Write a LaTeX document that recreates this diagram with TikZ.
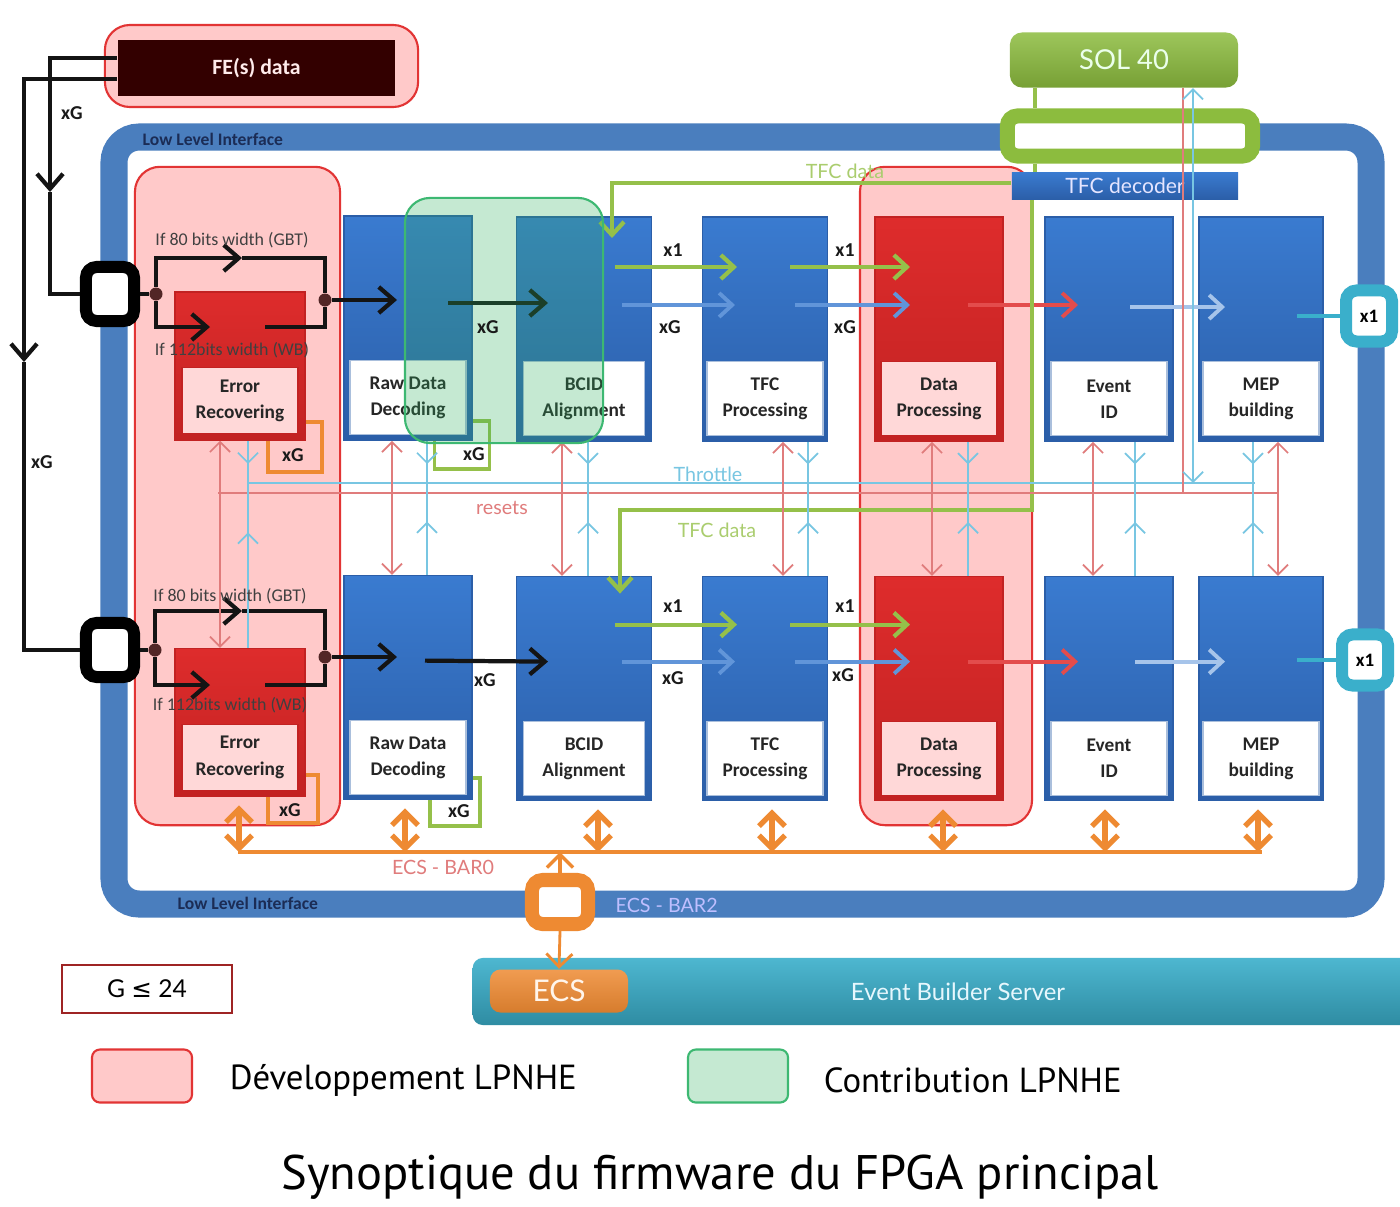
\documentclass[tikz,border=0pt]{standalone}
\usepackage{fontspec}
\setmainfont{Carlito}
\newfontfamily\thinfont{Lato}
\newfontfamily\legendfont{PT Sans}
\newfontfamily\dejavu{DejaVu Sans}
\usetikzlibrary{arrows.meta,positioning,decorations.markings}

\definecolor{llblue}{HTML}{4A7EBE}
\definecolor{blkblue}{HTML}{3A7BD0}
\definecolor{blkblue2}{HTML}{2B5EA8}
\definecolor{blkred}{HTML}{DE2C2C}
\definecolor{blkred2}{HTML}{C22222}
\definecolor{devpink}{HTML}{FFB8B8}
\definecolor{devline}{HTML}{E23434}
\definecolor{contgreen}{HTML}{30B060}
\definecolor{contline}{HTML}{3DB872}
\definecolor{solgreen}{HTML}{8CBC3E}
\definecolor{tfcgreen}{HTML}{95C04A}
\definecolor{portteal}{HTML}{3AAFCB}
\definecolor{ecsorange}{HTML}{EE8A32}
\definecolor{rstred}{HTML}{E07C7C}
\definecolor{thrblue}{HTML}{78C6E2}
\definecolor{fedark}{HTML}{330000}
\definecolor{navy}{HTML}{1B2C55}

\begin{document}
\begin{tikzpicture}[x=0.01cm, y=-0.01cm, >={Straight Barb[length=1mm,width=2mm]}, every node/.style={inner sep=0pt}]

    % Styles for nodes
    \tikzstyle{block} = [minimum width=1.28cm, minimum height=2.24cm, top color=blkblue, bottom color=blkblue2, draw=blkblue2]
    \tikzstyle{redblock} = [block, top color=blkred, bottom color=blkred2, draw=blkred2]
    \tikzstyle{erblock} = [redblock, minimum width=1.30cm, minimum height=1.48cm]
    \tikzstyle{blocktext} = [fill=white, draw=blkblue2!40, minimum width=1.16cm, minimum height=0.74cm, align=center, text=black!85, font=\fontsize{5.5}{7.4}\selectfont\bfseries]
    \tikzstyle{ertext} = [blocktext, fill=devpink!55!white, draw=blkred2, minimum height=0.66cm]
    \tikzstyle{devzone} = [fill=devpink, fill opacity=0.75, draw=devline, line width=0.6pt, rounded corners=0.25cm]
    \tikzstyle{contzone} = [fill=contgreen, fill opacity=0.28, draw=contline, line width=0.6pt, rounded corners=0.25cm]
    \tikzstyle{port} = [draw=black, line width=0.12cm, fill=white, rounded corners=3pt, minimum width=0.48cm, minimum height=0.54cm]
    \tikzstyle{outport} = [draw=portteal, line width=0.12cm, fill=white, rounded corners=3pt, minimum width=0.46cm, minimum height=0.51cm, font=\fontsize{5.4}{6}\selectfont\bfseries]
    \tikzstyle{joint} = [circle, fill=fedark!85, minimum size=0.13cm]
    \tikzstyle{xgbox} = [draw=ecsorange, line width=1pt, minimum width=0.5cm, minimum height=0.48cm]
    \tikzstyle{linktext} = [font=\fontsize{5.6}{6}\selectfont\bfseries, text=black!90]
    \tikzstyle{widthtext} = [font=\fontsize{5.1}{6}\selectfont, text=black!75]
    \tikzstyle{bustext} = [font=\thinfont\fontsize{5.6}{6}\selectfont]
    \tikzstyle{data} = [draw=black!92, line width=1.2pt, >={Straight Barb[length=1.5mm,width=2.6mm]}]
    \tikzstyle{tfc} = [draw=tfcgreen, line width=1.2pt, >={Straight Barb[length=1.3mm,width=2.4mm]}]
    \tikzstyle{xgl} = [draw=blkblue!80!white, line width=1.1pt, >={Straight Barb[length=1.3mm,width=2.4mm]}]
    \tikzstyle{dpl} = [xgl, draw=blkred!85!white]
    \tikzstyle{evl} = [xgl, draw=blkblue!45!white]
    \tikzstyle{outl} = [draw=portteal, line width=1.1pt]
    \tikzstyle{rst} = [draw=rstred, line width=0.5pt]
    \tikzstyle{thr} = [draw=thrblue, line width=0.5pt]
    \tikzstyle{ecs} = [draw=ecsorange, line width=1.5pt, >={Straight Barb[length=1.3mm,width=2.6mm]}]
    \tikzset{mid arrow/.style={postaction={decorate}, decoration={markings, mark=at position #1 with {\arrow{>}}}}}

    \useasboundingbox (0,0) rectangle (1400,1206);
    \fill[white] (0,0) rectangle (1400,1206);

    % Low Level Interface frame
    \draw[draw=llblue, line width=0.27cm, rounded corners=0.25cm] (114,137) rectangle (1371,904);
    \node[anchor=west, font=\fontsize{5}{5}\selectfont\bfseries, text=navy] (lli1) at (142,139) {Low Level Interface};
    \node[anchor=west, font=\fontsize{5}{5}\selectfont\bfseries, text=navy] (lli2) at (177,903) {Low Level Interface};

    % FE data
    \node[devzone, minimum width=3.13cm, minimum height=0.82cm] (fezone) at (261.5,66) {};
    \node[fill=fedark, minimum width=2.77cm, minimum height=0.56cm, text=white!92!red, font=\fontsize{6.2}{7}\selectfont\bfseries] (fe) at (256.5,68) {FE(s) data};

    % Zones
    \node[devzone, minimum width=2.05cm, minimum height=6.58cm] (devL) at (237.5,496) {};
    \node[devzone, minimum width=1.72cm, minimum height=6.58cm] (devR) at (946,496) {};

    % xG boxes behind blocks
    \node[xgbox, minimum width=0.54cm, minimum height=0.50cm] (erx1) at (295,447) {};
    \node[xgbox] (erx2) at (293,799) {};
    \node[xgbox, draw=tfcgreen, minimum width=0.55cm] (rdx1) at (462,445) {};
    \node[xgbox, draw=tfcgreen] (rdx2) at (455,802) {};

    % Blocks, upper row
    \node[erblock] (er1) at (240,366) {};
    \node[block] (rd1) at (408,328) {};
    \node[block, minimum width=1.35cm] (bc1) at (584,329) {};
    \node[block, minimum width=1.25cm] (tf1) at (765,329) {};
    \node[redblock] (dp1) at (939,329) {};
    \node[block] (ev1) at (1109,329) {};
    \node[block, minimum width=1.24cm] (mb1) at (1261,329) {};

    % Blocks, lower row
    \node[erblock, below=2.07cm of er1] (er2) {};
    \node[block, below=1.34cm of rd1] (rd2) {};
    \node[block, minimum width=1.35cm, below=1.34cm of bc1] (bc2) {};
    \node[block, minimum width=1.25cm, below=1.34cm of tf1] (tf2) {};
    \node[redblock, below=1.34cm of dp1] (dp2) {};
    \node[block, below=1.34cm of ev1] (ev2) {};
    \node[block, minimum width=1.24cm, below=1.34cm of mb1] (mb2) {};

    % Block names
    \node[ertext] (er1t) at ([shift={(0,-40)}]er1.south) {Error\\Recovering};
    \node[blocktext] (rd1t) at ([shift={(0,-43)}]rd1.south) {Raw Data\\Decoding};
    \node[blocktext, minimum width=1.21cm] (bc1t) at ([shift={(0,-43)}]bc1.south) {BCID\\Alignment};
    \node[blocktext] (tf1t) at ([shift={(0,-43)}]tf1.south) {TFC\\Processing};
    \node[ertext, minimum height=0.74cm] (dp1t) at ([shift={(0,-43)}]dp1.south) {Data\\Processing};
    \node[blocktext] (ev1t) at ([shift={(0,-43)}]ev1.south) {Event\\ID};
    \node[blocktext] (mb1t) at ([shift={(0,-43)}]mb1.south) {MEP\\building};
    \node[ertext] (er2t) at ([shift={(0,-40)}]er2.south) {Error\\Recovering};
    \node[blocktext] (rd2t) at ([shift={(0,-43)}]rd2.south) {Raw Data\\Decoding};
    \node[blocktext, minimum width=1.21cm] (bc2t) at ([shift={(0,-43)}]bc2.south) {BCID\\Alignment};
    \node[blocktext] (tf2t) at ([shift={(0,-43)}]tf2.south) {TFC\\Processing};
    \node[ertext, minimum height=0.74cm] (dp2t) at ([shift={(0,-43)}]dp2.south) {Data\\Processing};
    \node[blocktext] (ev2t) at ([shift={(0,-43)}]ev2.south) {Event\\ID};
    \node[blocktext] (mb2t) at ([shift={(0,-43)}]mb2.south) {MEP\\building};

    % SOL 40 and TFC decoder
    \node[top color=solgreen!85!white, bottom color=solgreen!85!black, rounded corners=0.12cm, minimum width=2.28cm, minimum height=0.55cm, text=white!92!green, font=\thinfont\fontsize{7.8}{9}\selectfont] (sol) at (1124,60) {SOL 40};
    \node[draw=solgreen, line width=0.15cm, fill=white, rounded corners=0.1cm, minimum width=2.45cm, minimum height=0.40cm] (tfcport) at (1130,136) {};
    \node[top color=blkblue, bottom color=blkblue2, minimum width=2.26cm, minimum height=0.27cm, text=white!90!blue, font=\thinfont\fontsize{6}{7}\selectfont] (tfcdec) at (1125,186) {TFC decoder};

    % Ports
    \node[port] (port1) at (110,294) {};
    \node[port] (port2) at (110,650) {};
    \node[outport] (out1) at (1369,316) {x1};
    \node[outport] (out2) at (1365,660) {x1};

    % Coordinates
    \coordinate (feL) at (24,362);
    \coordinate (feR) at (50,192);
    \coordinate (gbt1) at (242,258);
    \coordinate (wb1) at (210,327);
    \coordinate (wb2) at (265,327);
    \coordinate (gbt2) at (242,611);
    \coordinate (wb3) at (210,685);
    \coordinate (wb4) at (265,685);
    \coordinate (rstL) at (218,493);
    \coordinate (rstR) at (1278,493);
    \coordinate (thrL) at (248,483);
    \coordinate (thrR) at (1255,483);
    \coordinate (solgrn) at (1035,0);
    \coordinate (solrst) at (1183,0);
    \coordinate (solthr) at (1193,0);
    \coordinate (tfcbend) at (1032,510);
    \coordinate (ecsL) at (238,852);
    \coordinate (ecsR) at (1262,852);
    \node[joint] (d1) at (156,294) {};
    \node[joint] (d2) at (325,300) {};
    \node[joint] (d3) at (155,650) {};
    \node[joint] (d4) at (325,657) {};

    % FE data links
    \draw[data,->] ([shift={(0,11)}]fe.west) -| (feL);
    \draw[data] (feL) |- (port2.west);
    \draw[data,->] ([shift={(0,-10)}]fe.west) -| (feR);
    \draw[data] (feR) |- (port1.west);

    % Upper input path
    \draw[data] (port1.east) -- (d1);
    \draw[data,->] (d1) |- (gbt1);
    \draw[data] (gbt1) -| (d2);
    \draw[data,->] (d1) |- (wb1);
    \draw[data] (wb2) -| (d2);
    \draw[data,->] (d2) -- ++(72,0);
    \draw[data,->] ([shift={(40,-25)}]rd1.center) -- ([shift={(-36,-26)}]bc1.center);

    % Lower input path
    \draw[data] (port2.east) -- (d3);
    \draw[data,->] (d3) |- (gbt2);
    \draw[data] (gbt2) -| (d4);
    \draw[data,->] (d3) |- (wb3);
    \draw[data] (wb4) -| (d4);
    \draw[data,->] (d4) -- ++(72,0);
    \draw[data,->] ([shift={(17,-27)}]rd2.center) -- ([shift={(-36,-27)}]bc2.center);

    % Links between blocks, upper row
    \draw[tfc,->] ([shift={(31,-62)}]bc1.center) -- ([shift={(-28,-62)}]tf1.center);
    \draw[tfc,->] ([shift={(25,-62)}]tf1.center) -- ([shift={(-29,-62)}]dp1.center);
    \draw[xgl,->] ([shift={(38,-24)}]bc1.center) -- ([shift={(-30,-24)}]tf1.center);
    \draw[xgl,->] ([shift={(30,-24)}]tf1.center) -- ([shift={(-29,-24)}]dp1.center);
    \draw[dpl,->] ([shift={(29,-24)}]dp1.center) -- ([shift={(-31,-24)}]ev1.center);
    \draw[evl,->] ([shift={(21,-22)}]ev1.center) -- ([shift={(-36,-22)}]mb1.center);
    \draw[outl] ([shift={(36,0)}]mb1.center |- out1.west) -- (out1.west);

    % Links between blocks, lower row
    \draw[tfc,->] ([shift={(31,-64)}]bc2.center) -- ([shift={(-28,-64)}]tf2.center);
    \draw[tfc,->] ([shift={(25,-64)}]tf2.center) -- ([shift={(-29,-64)}]dp2.center);
    \draw[xgl,->] ([shift={(38,-27)}]bc2.center) -- ([shift={(-30,-27)}]tf2.center);
    \draw[xgl,->] ([shift={(30,-27)}]tf2.center) -- ([shift={(-29,-27)}]dp2.center);
    \draw[dpl,->] ([shift={(29,-27)}]dp2.center) -- ([shift={(-31,-27)}]ev2.center);
    \draw[evl,->] ([shift={(26,-27)}]ev2.center) -- ([shift={(-36,-27)}]mb2.center);
    \draw[outl] ([shift={(36,0)}]mb2.center |- out2.west) -- (out2.west);

    % TFC data from decoder
    \draw[tfc] (sol.south -| solgrn) -- (tfcport.north -| solgrn);
    \draw[tfc] (tfcport.south -| solgrn) -- (tfcdec.north -| solgrn);
    \draw[tfc,->] ([shift={(0,-3)}]tfcdec.west) -| ([shift={(28,-91)}]bc1.center);
    \draw[tfc,->] (tfcdec.south -| tfcbend) -- (tfcbend) -| ([shift={(36,-95)}]bc2.center);

    % Throttle and resets buses
    \draw[rst] (rstL) -- (rstR);
    \draw[thr] (thrL) -- (thrR);
    \draw[rst] (sol.south -| solrst) -- (solrst |- rstL);
    \draw[thr,<->] (sol.south -| solthr) -- (solthr |- thrL);

    % Resets
    \draw[rst,<->] ([shift={(-20,0)}]er1.south) -- ([shift={(-20,0)}]er1.south |- er2.north);
    \draw[rst,<->] ([shift={(-16,0)}]rd1.south) -- ([shift={(-16,0)}]rd1.south |- rd2.north);
    \draw[rst,<->] ([shift={(-22,0)}]bc1.south) -- ([shift={(-22,0)}]bc1.south |- bc2.north);
    \draw[rst,<->] ([shift={(18,0)}]tf1.south) -- ([shift={(18,0)}]tf1.south |- tf2.north);
    \draw[rst,<->] ([shift={(-7,0)}]dp1.south) -- ([shift={(-7,0)}]dp1.south |- dp2.north);
    \draw[rst,<->] ([shift={(-16,0)}]ev1.south) -- ([shift={(-16,0)}]ev1.south |- ev2.north);
    \draw[rst,<->] ([shift={(17,0)}]mb1.south) -- ([shift={(17,0)}]mb1.south |- mb2.north);

    % Throttle
    \draw[thr,mid arrow=0.55] ([shift={(8,0)}]er1.south) -- ([shift={(8,0)}]er1.south |- thrL);
    \draw[thr,mid arrow=0.7] ([shift={(8,0)}]er2.north) -- ([shift={(8,0)}]er2.north |- thrL);
    \draw[thr,mid arrow=0.55] ([shift={(19,0)}]rd1.south) -- ([shift={(19,0)}]rd1.south |- thrL);
    \draw[thr,mid arrow=0.58] ([shift={(19,0)}]rd2.north) -- ([shift={(19,0)}]rd2.north |- thrL);
    \draw[thr,mid arrow=0.55] ([shift={(4,0)}]bc1.south) -- ([shift={(4,0)}]bc1.south |- thrL);
    \draw[thr,mid arrow=0.58] ([shift={(4,0)}]bc2.north) -- ([shift={(4,0)}]bc2.north |- thrL);
    \draw[thr,mid arrow=0.55] ([shift={(43,0)}]tf1.south) -- ([shift={(43,0)}]tf1.south |- thrL);
    \draw[thr,mid arrow=0.58] ([shift={(43,0)}]tf2.north) -- ([shift={(43,0)}]tf2.north |- thrL);
    \draw[thr,mid arrow=0.55] ([shift={(29,0)}]dp1.south) -- ([shift={(29,0)}]dp1.south |- thrL);
    \draw[thr,mid arrow=0.58] ([shift={(29,0)}]dp2.north) -- ([shift={(29,0)}]dp2.north |- thrL);
    \draw[thr,mid arrow=0.55] ([shift={(26,0)}]ev1.south) -- ([shift={(26,0)}]ev1.south |- thrL);
    \draw[thr,mid arrow=0.58] ([shift={(26,0)}]ev2.north) -- ([shift={(26,0)}]ev2.north |- thrL);
    \draw[thr,mid arrow=0.55] ([shift={(-8,0)}]mb1.south) -- ([shift={(-8,0)}]mb1.south |- thrL);
    \draw[thr,mid arrow=0.58] ([shift={(-8,0)}]mb2.north) -- ([shift={(-8,0)}]mb2.north |- thrL);

    % ECS bus
    \node[draw=ecsorange, line width=0.14cm, fill=white, rounded corners=3pt, minimum width=0.56cm, minimum height=0.44cm] (ecsport) at (560,902) {};
    \draw[ecs, line width=1pt] (ecsL) -- (ecsR);
    \draw[ecs,<->, shorten <=0.08cm] ([shift={(-1,0)}]er2.south) -- ([shift={(-1,0)}]er2.south |- ecsL);
    \draw[ecs,<->, shorten <=0.08cm] ([shift={(-3,0)}]rd2.south) -- ([shift={(-3,0)}]rd2.south |- ecsL);
    \draw[ecs,<->, shorten <=0.08cm] ([shift={(14,0)}]bc2.south) -- ([shift={(14,0)}]bc2.south |- ecsL);
    \draw[ecs,<->, shorten <=0.08cm] ([shift={(7,0)}]tf2.south) -- ([shift={(7,0)}]tf2.south |- ecsL);
    \draw[ecs,<->, shorten <=0.08cm] ([shift={(4,0)}]dp2.south) -- ([shift={(4,0)}]dp2.south |- ecsL);
    \draw[ecs,<->, shorten <=0.08cm] ([shift={(-4,0)}]ev2.south) -- ([shift={(-4,0)}]ev2.south |- ecsL);
    \draw[ecs,<->, shorten <=0.08cm] ([shift={(-3,0)}]mb2.south) -- ([shift={(-3,0)}]mb2.south |- ecsL);
    \draw[ecs,->, line width=1pt] (ecsport.north) -- (ecsport.north |- ecsL);

    % Contribution zone
    \node[contzone, minimum width=1.98cm, minimum height=2.45cm] (contz) at (504,320.5) {};

    % Event Builder Server
    \node[anchor=west, top color=portteal!90!white, bottom color=portteal!80!black, rounded corners=0.1cm, minimum width=9.6cm, minimum height=0.67cm] (ebs) at (472,991.5) {};
    \node[top color=ecsorange!85!white, bottom color=ecsorange!90!black, rounded corners=3pt, minimum width=1.38cm, minimum height=0.43cm, text=white!92!orange, font=\thinfont\fontsize{8.5}{9}\selectfont] (ecsbox) at (559,991) {ECS};
    \node[text=white!90!cyan, font=\thinfont\fontsize{6.8}{8}\selectfont] (ebst) at (958,992) {Event Builder Server};
    \draw[ecs,->, line width=0.8pt] (ecsport.south) -- (ecsbox.north);

    % Link labels
    \node[linktext] (xga) at (72,113) {xG};
    \node[linktext] (xgb) at (42,462) {xG};
    \node[linktext] (l1) at (673,250) {x1};
    \node[linktext] (l2) at (670,327) {xG};
    \node[linktext] (l3) at (845,250) {x1};
    \node[linktext] (l4) at (845,327) {xG};
    \node[linktext] (l5) at (488,327) {xG};
    \node[linktext] (l6) at (673,606) {x1};
    \node[linktext] (l7) at (673,678) {xG};
    \node[linktext] (l8) at (845,606) {x1};
    \node[linktext] (l9) at (843,675) {xG};
    \node[linktext] (l10) at (485,680) {xG};
    \node[linktext] (erx1t) at ([shift={(-2,8)}]erx1.center) {xG};
    \node[linktext] (erx2t) at ([shift={(-3,11)}]erx2.center) {xG};
    \node[linktext] (rdx1t) at ([shift={(12,9)}]rdx1.center) {xG};
    \node[linktext] (rdx2t) at ([shift={(4,9)}]rdx2.center) {xG};
    \node[widthtext] (gbt1t) at (232,240) {If 80 bits width (GBT)};
    \node[widthtext] (wb1t) at (232,350) {If 112bits width (WB)};
    \node[widthtext] (gbt2t) at (230,596) {If 80 bits width (GBT)};
    \node[widthtext] (wb2t) at (230,705) {If 112bits width (WB)};

    % Bus labels
    \node[bustext, text=tfcgreen!80!white] (tfct1) at (845,171) {TFC data};
    \node[bustext, text=tfcgreen!80!white] (tfct2) at (717,530) {TFC data};
    \node[bustext, text=thrblue] (thrt) at (708,474) {Throttle};
    \node[bustext, text=rstred] (rstt) at (502,508) {resets};
    \node[bustext, text=rstred] (bar0) at (443,867) {ECS - BAR0};
    \node[bustext, anchor=west, text=white!75!blue] (bar2) at (615,905) {ECS - BAR2};

    % Legend
    \node[draw=devline!70!black, line width=0.8pt, fill=white, minimum width=1.70cm, minimum height=0.48cm, font=\thinfont\fontsize{7}{8}\selectfont] (gmax) at (147,989) {G {\dejavu ≤} 24};
    \node[devzone, minimum width=1.0cm, minimum height=0.53cm, rounded corners=0.08cm] (devkey) at (142,1076) {};
    \node[right=0.36cm of devkey, yshift=-0.04cm, font=\legendfont\fontsize{9.9}{12}\selectfont] (devtext) {Développement LPNHE};
    \node[contzone, minimum width=1.0cm, minimum height=0.53cm, rounded corners=0.08cm] (contkey) at (738,1076) {};
    \node[right=0.34cm of contkey, yshift=-0.04cm, font=\legendfont\fontsize{9.9}{12}\selectfont] (conttext) {Contribution LPNHE};

    % Title
    \node[font=\legendfont\fontsize{13.8}{16}\selectfont] (title) at (720,1177) {Synoptique du firmware du FPGA principal};

\end{tikzpicture}
\end{document}
